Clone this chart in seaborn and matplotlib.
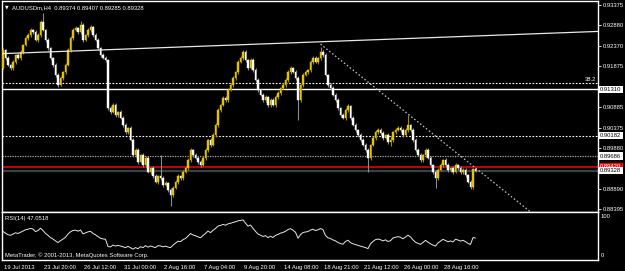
import numpy as np
import pandas as pd
import matplotlib
matplotlib.use("Agg")
import matplotlib.pyplot as plt
import matplotlib.transforms as mtransforms
import seaborn as sns

# ---------------- data ----------------
symbol = "AUDUSDm,H4"
header_ohlc = ["0.89374", "0.89407", "0.89285", "0.89328"]
first_open = 0.91830

closes = [
    0.92270, 0.92076, 0.91905, 0.91832, 0.91978, 0.92149, 0.92076, 0.92222, 0.92393, 0.92563,
    0.92636, 0.92758, 0.92709, 0.92514, 0.92636, 0.92953, 0.92758, 0.92514, 0.92319, 0.92076,
    0.91905, 0.91661, 0.91417, 0.91588, 0.91734, 0.91905, 0.92270, 0.92563, 0.92758, 0.92807,
    0.92709, 0.92880, 0.92514, 0.92636, 0.92758, 0.92832, 0.92636, 0.92514, 0.92319, 0.92149,
    0.92076, 0.92027, 0.90857, 0.90759, 0.90930, 0.90686, 0.90759, 0.90613, 0.90442, 0.90272,
    0.90369, 0.90076, 0.89710, 0.89832, 0.89540, 0.89710, 0.89467, 0.89637, 0.89296, 0.89394,
    0.89199, 0.89052, 0.89199, 0.89150, 0.88979, 0.89028, 0.88857, 0.88735, 0.88906, 0.89052,
    0.89199, 0.89150, 0.89296, 0.89394, 0.89588, 0.89832, 0.89710, 0.89637, 0.89540, 0.89467,
    0.89637, 0.89832, 0.90076, 0.89954, 0.90198, 0.90442, 0.90808, 0.90930, 0.91100, 0.91052,
    0.91295, 0.91417, 0.91588, 0.91734, 0.91978, 0.92076, 0.92222, 0.92027, 0.91832, 0.92027,
    0.91783, 0.91539, 0.91295, 0.91173, 0.91052, 0.91124, 0.90930, 0.91052, 0.90930, 0.91124,
    0.91222, 0.91344, 0.91417, 0.91539, 0.91734, 0.91832, 0.91734, 0.91588, 0.91052, 0.91417,
    0.91661, 0.91734, 0.91783, 0.91978, 0.92076, 0.91978, 0.92076, 0.92222, 0.92149, 0.91661,
    0.91417, 0.91344, 0.91173, 0.91052, 0.90857, 0.90686, 0.90613, 0.90808, 0.90905, 0.90613,
    0.90442, 0.90320, 0.90198, 0.90076, 0.89954, 0.89832, 0.89637, 0.89954, 0.90125, 0.90272,
    0.90320, 0.90247, 0.90125, 0.90198, 0.90027, 0.90076, 0.90272, 0.90320, 0.90369, 0.90320,
    0.90198, 0.90320, 0.90442, 0.90320, 0.90076, 0.89832, 0.89710, 0.89588, 0.89710, 0.89832,
    0.89637, 0.89467, 0.89296, 0.89150, 0.89345, 0.89467, 0.89588, 0.89467, 0.89345, 0.89394,
    0.89296, 0.89467, 0.89394, 0.89296, 0.89345, 0.89223, 0.89052, 0.88930, 0.89374, 0.89328,
]

upper_wick_pips = [
    4, 3, 5, 2, 6, 3, 4, 5, 3, 6,
    4, 5, 3, 6, 4, 5, 22, 3, 4, 2,
    3, 5, 4, 6, 3, 4, 5, 6, 4, 5,
    3, 10, 4, 3, 5, 4, 3, 4, 5, 3,
    4, 5, 3, 6, 4, 5, 3, 4, 5, 6,
    3, 4, 5, 6, 4, 3, 5, 4, 6, 3,
    4, 5, 3, 50, 4, 5, 3, 4, 5, 6,
    4, 3, 5, 6, 4, 5, 3, 4, 5, 6,
    4, 5, 3, 4, 5, 6, 4, 3, 5, 4,
    6, 4, 5, 3, 4, 5, 6, 4, 3, 5,
    4, 5, 6, 3, 4, 5, 3, 4, 5, 6,
    4, 3, 5, 4, 6, 5, 3, 4, 5, 3,
    4, 5, 3, 6, 4, 5, 3, 12, 4, 5,
    3, 4, 5, 6, 4, 3, 5, 4, 6, 3,
    4, 5, 3, 4, 5, 6, 4, 3, 5, 4,
    6, 4, 5, 3, 4, 10, 3, 4, 5, 6,
    4, 5, 24, 3, 4, 5, 6, 4, 3, 5,
    4, 5, 3, 4, 6, 5, 3, 4, 5, 3,
    4, 5, 3, 6, 4, 5, 3, 4, 3, 3,
]

lower_wick_pips = [
    5, 4, 3, 6, 4, 5, 3, 4, 6, 3,
    5, 4, 6, 3, 5, 4, 3, 6, 4, 5,
    4, 6, 5, 3, 4, 6, 3, 5, 4, 3,
    6, 4, 5, 3, 4, 6, 5, 3, 4, 6,
    3, 4, 6, 5, 3, 4, 6, 3, 5, 4,
    6, 3, 4, 5, 6, 3, 4, 5, 3, 6,
    4, 3, 5, 4, 6, 3, 5, 27, 4, 3,
    5, 6, 4, 3, 5, 4, 6, 3, 4, 5,
    3, 4, 6, 5, 3, 4, 5, 6, 3, 4,
    5, 3, 4, 6, 5, 3, 4, 5, 6, 3,
    4, 6, 5, 3, 4, 5, 6, 4, 3, 5,
    6, 4, 3, 5, 4, 6, 3, 5, 49, 4,
    5, 3, 4, 6, 5, 3, 4, 5, 6, 3,
    4, 5, 3, 6, 4, 5, 3, 4, 5, 6,
    3, 4, 5, 6, 3, 4, 34, 5, 3, 4,
    5, 6, 4, 3, 5, 10, 4, 6, 3, 5,
    4, 3, 5, 6, 4, 5, 3, 4, 6, 5,
    3, 4, 5, 24, 6, 3, 4, 5, 6, 4,
    5, 3, 4, 6, 5, 4, 3, 5, 4, 4,
]

date_label_bars = [0, 16, 32, 48, 64, 80, 96, 112, 128, 144, 160, 176]
date_labels = ["19 Jul 2013", "23 Jul 20:00", "26 Jul 12:00", "31 Jul 00:00",
               "2 Aug 16:00", "7 Aug 04:00", "9 Aug 20:00", "14 Aug 08:00",
               "18 Aug 21:00", "21 Aug 12:00", "26 Aug 00:00", "28 Aug 16:00"]

# price axis ticks; the two hidden under the boxed labels carry no text
price_ticks = [0.93375, 0.92880, 0.92370, 0.91875, 0.91365, 0.90885,
               0.90375, 0.89880, 0.89370, 0.88890, 0.88395]
price_tick_labels = ["0.93375", "0.92880", "0.92370", "0.91875", "", "0.90885",
                     "0.90375", "0.89880", "", "0.88890", "0.88395"]

level_fib382 = 0.91466
level_solid = 0.91310
level_dash1 = 0.90182
level_dash2 = 0.89686
level_red = 0.89420
bid_price = 0.89328

uptrend_bars = [-1, 240]
uptrend_prices = [0.92180, 0.92728]
downtrend_bars = [127, 215]
downtrend_prices = [0.92414, 0.88128]

rsi_period = 14
rsi_seed_gain = 0.0011
rsi_seed_loss = 0.0010
rsi_label = "RSI(14) 47.0518"
copyright_text = "MetaTrader, \u00a9 2001-2013, MetaQuotes Software Corp."

# ---------------- frame ----------------
n = len(closes)
opens = [first_open] + closes[:-1]
df = pd.DataFrame({"bar": np.arange(n), "open": opens, "close": closes})
df["high"] = df[["open", "close"]].max(axis=1) + np.array(upper_wick_pips) * 1e-4
df["low"] = df[["open", "close"]].min(axis=1) - np.array(lower_wick_pips) * 1e-4
df["bull"] = df["close"] >= df["open"]

# Wilder RSI
ag, al = rsi_seed_gain, rsi_seed_loss
rsi_vals = []
prev = first_open
for c in closes:
    d = c - prev
    ag = (ag * (rsi_period - 1) + max(d, 0.0)) / rsi_period
    al = (al * (rsi_period - 1) + max(-d, 0.0)) / rsi_period
    rsi_vals.append(100 - 100 / (1 + ag / al))
    prev = c
df["rsi"] = rsi_vals

# ---------------- style ----------------
sns.set_style("dark", {"axes.facecolor": "black", "figure.facecolor": "black",
                       "axes.edgecolor": "white", "grid.color": "black"})
plt.rcParams["font.family"] = ["Liberation Sans", "DejaVu Sans"]

W, H = 625, 271
fig = plt.figure(figsize=(W / 100, H / 100), dpi=100)
fig.patch.set_facecolor("black")

def frac(l, t, r, b):
    return [l / W, 1 - b / H, (r - l) / W, (b - t) / H]

ax = fig.add_axes(frac(2, 1, 598, 211.5))
rx = fig.add_axes(frac(2, 212, 598, 259.5), sharex=ax)
for a in (ax, rx):
    a.set_facecolor("black")
    a.grid(False)
    for s in a.spines.values():
        s.set_color("white")
        s.set_linewidth(1.0)
        s.set_visible(True)

FS = 4.2
BULL = "#E6C300"
BULL_WICK = "#A08A00"
BEAR = "#FFFFFF"
BEAR_WICK = "#8C8C8C"

# wicks
bulls = df[df["bull"]]
bears = df[~df["bull"]]
ax.vlines(bulls["bar"], bulls["low"], bulls["high"], color=BULL_WICK, lw=0.8, zorder=3)
ax.vlines(bears["bar"], bears["low"], bears["high"], color=BEAR_WICK, lw=0.8, zorder=3)
# bodies
body_min = 0.00004
for sub, col in ((bulls, BULL), (bears, BEAR)):
    bottom = sub[["open", "close"]].min(axis=1)
    height = np.maximum((sub["close"] - sub["open"]).abs(), body_min)
    ax.bar(sub["bar"], height, bottom=bottom, width=0.62, color=col, edgecolor=col,
           linewidth=0.3, zorder=4)

# horizontal levels
ax.axhline(level_solid, color="white", lw=1.0, zorder=2)
ax.axhline(level_fib382, color="white", lw=0.8, ls=(0, (1.5, 1.5)), zorder=2)
ax.axhline(level_dash1, color="white", lw=0.8, ls=(0, (1.5, 1.5)), zorder=2)
ax.axhline(level_dash2, color="#A8A8A8", lw=0.9, ls=(0, (1.0, 1.0)), zorder=2)
ax.axhline(bid_price, color="#3A4044", lw=1.6, zorder=2)
ax.axhline(level_red, color="#FF0000", lw=1.1, zorder=2)

# trend lines (seaborn)
up_df = pd.DataFrame({"bar": uptrend_bars, "price": uptrend_prices})
dn_df = pd.DataFrame({"bar": downtrend_bars, "price": downtrend_prices})
sns.lineplot(data=up_df, x="bar", y="price", ax=ax, color="#E8E8E8", lw=0.9, zorder=5)
sns.lineplot(data=dn_df, x="bar", y="price", ax=ax, color="#C8C8C8", lw=0.9,
             linestyle=(0, (1.2, 1.8)), zorder=5)

ax.set_xlim(-0.4, 238)
ax.set_ylim(0.88333, 0.93465)
ax.set_xlabel("")
ax.set_ylabel("")
ax.yaxis.tick_right()
ax.set_yticks(price_ticks)
ax.set_yticklabels(price_tick_labels)
ax.tick_params(axis="y", colors="white", labelcolor="white", labelsize=FS,
               length=2.5, width=0.6, pad=1, direction="out")
ax.tick_params(axis="x", bottom=False, labelbottom=False)

# boxed price labels
def box_label(a, price, text, fc, tc, z=6):
    a.annotate(text, xy=(1.0, price), xycoords=("axes fraction", "data"),
               xytext=(1.6, 0), textcoords="offset points", ha="left", va="center",
               fontsize=FS, color=tc, zorder=z, annotation_clip=False,
               bbox=dict(boxstyle="square,pad=0.2", fc=fc, ec=fc, lw=0))

box_label(ax, level_solid, "0.91310", "white", "black")
box_label(ax, level_dash1, "0.90182", "white", "black")
box_label(ax, level_dash2, "0.89686", "white", "black")
box_label(ax, level_red, "0.89420", "#FF0000", "white", z=6)
box_label(ax, bid_price, "0.89328", "white", "black", z=7)

ax.annotate("38.2", xy=(0.9965, level_fib382), xycoords=("axes fraction", "data"),
            xytext=(0, 1.0), textcoords="offset points", ha="right", va="bottom",
            fontsize=FS, color="white")

# header
ax.text(0.005, 0.97, "\u25bc", transform=ax.transAxes, fontsize=3.4, color="white",
        va="center", ha="left", family=["DejaVu Sans"])
ax.text(0.017, 0.97, symbol + "  " + " ".join(header_ohlc), transform=ax.transAxes,
        fontsize=FS, color="white", va="center", ha="left")

# RSI panel
sns.lineplot(data=df, x="bar", y="rsi", ax=rx, color="#E6E6E6", lw=0.7)
rx.set_ylim(0, 100)
rx.set_xlim(-0.4, 238)
rx.set_xlabel("")
rx.set_ylabel("")
rx.set_yticks([])
rx.text(1.005, 0.90, "100", transform=rx.transAxes, fontsize=FS, color="white",
        ha="left", va="center", clip_on=False)
rx.text(1.005, 0.08, "0", transform=rx.transAxes, fontsize=FS, color="white",
        ha="left", va="center", clip_on=False)
rx.text(0.005, 0.86, rsi_label, transform=rx.transAxes, fontsize=FS, color="white",
        ha="left", va="center")
rx.text(0.005, 0.10, copyright_text, transform=rx.transAxes, fontsize=FS, color="white",
        ha="left", va="center")

rx.set_xticks(date_label_bars)
rx.set_xticklabels(date_labels)
rx.tick_params(axis="x", colors="white", labelcolor="white", labelsize=FS,
               length=3, width=0.6, pad=0.8, direction="out")
off = mtransforms.ScaledTranslation(1.2 / 100, 0, fig.dpi_scale_trans)
for lab in rx.get_xticklabels():
    lab.set_ha("left")
    lab.set_transform(lab.get_transform() + off)

fig.savefig("out.png", dpi=100, facecolor="black")
